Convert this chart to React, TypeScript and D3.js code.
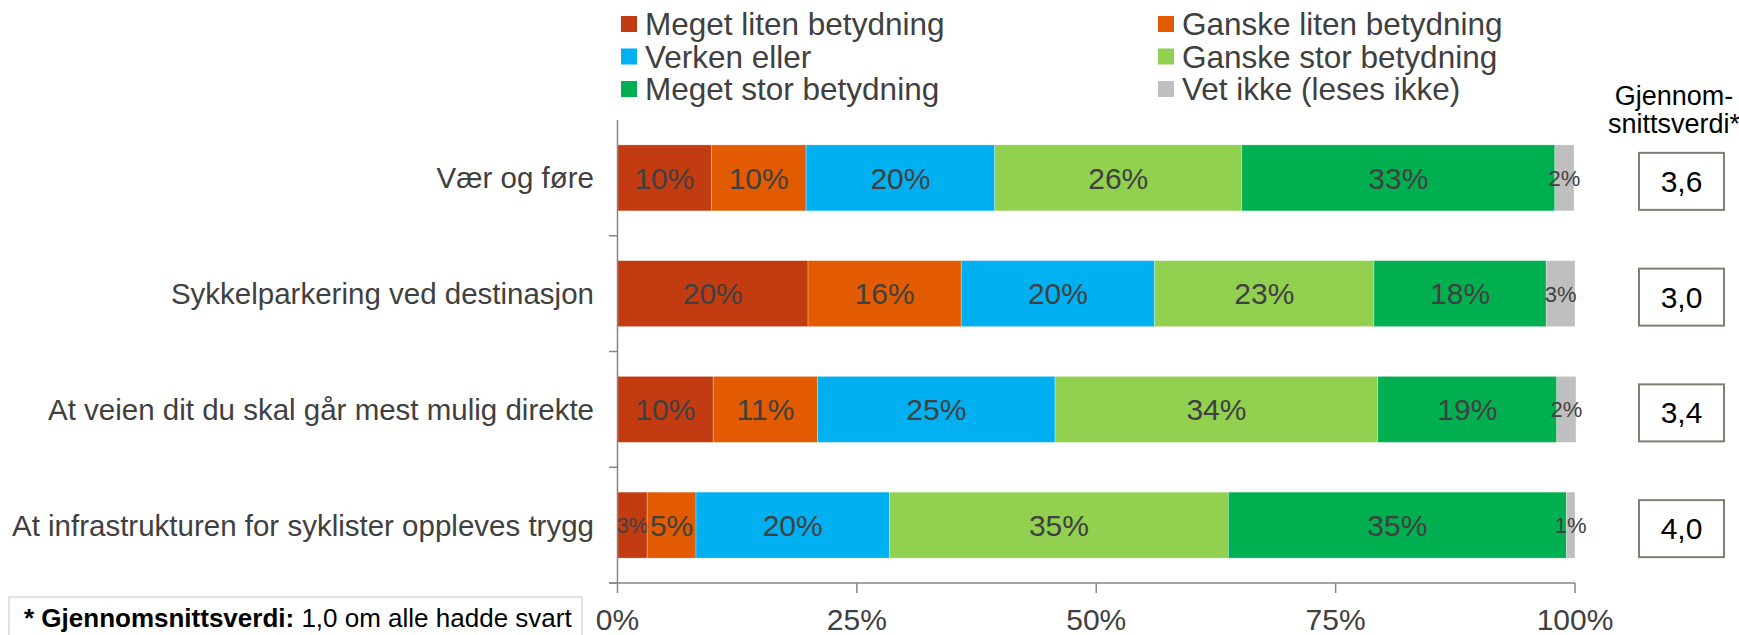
import React from "react";
import * as d3 from "d3";

const categories = [
  "Vær og føre",
  "Sykkelparkering ved destinasjon",
  "At veien dit du skal går mest mulig direkte",
  "At infrastrukturen for syklister oppleves trygg",
];
const seriesNames = [
  "Meget liten betydning",
  "Ganske liten betydning",
  "Verken eller",
  "Ganske stor betydning",
  "Meget stor betydning",
  "Vet ikke (leses ikke)",
];
const megetLiten = [9.8, 19.9, 10.0, 3.1];
const ganskeLiten = [9.9, 16.0, 10.9, 5.1];
const verkenEller = [19.7, 20.2, 24.8, 20.2];
const ganskeStor = [25.8, 22.9, 33.7, 35.4];
const megetStor = [32.7, 18.0, 18.7, 35.3];
const vetIkke = [2.0, 3.0, 2.0, 0.9];
const meanValues = [3.6, 3.0, 3.4, 4.0];
const xTicks = [0, 25, 50, 75, 100];

const colors = ["#C33B11", "#E35B00", "#00B0F0", "#92D050", "#00B050", "#BFBFBF"];
const FONT = "'Liberation Sans', Arial, Helvetica, sans-serif";
const TXT = "#404040";

export default function App() {
  const seriesValues = [megetLiten, ganskeLiten, verkenEller, ganskeStor, megetStor, vetIkke];
  const rows = categories.map((c, i) => {
    const r: any = { cat: c };
    seriesNames.forEach((s, j) => (r[s] = seriesValues[j][i]));
    return r;
  });
  const stacked = d3.stack<any>().keys(seriesNames)(rows);

  const x = d3.scaleLinear().domain([0, 100]).range([617.5, 1575]);
  const y = d3
    .scaleBand<string>()
    .domain(categories)
    .range([120, 583])
    .paddingInner(0.43)
    .paddingOuter(0.215);
  const step = y.step();
  const axisColor = "#868686";

  const legendCols = [621, 1158];
  const legendRowsY = [24, 56.5, 89];

  return (
    <svg
      width={1739}
      height={635}
      style={{ position: "absolute", left: 0, top: 0, display: "block", background: "#fff" }}
      fontFamily={FONT}
    >
      {/* legend */}
      {seriesNames.map((s, i) => {
        const cx = legendCols[i % 2];
        const cy = legendRowsY[Math.floor(i / 2)];
        return (
          <g key={s}>
            <rect x={cx} y={cy - 8} width={16} height={16} fill={colors[i]} />
            <text x={cx + 24} y={cy + 11} fontSize={31.5} fill={TXT}>
              {s}
            </text>
          </g>
        );
      })}

      {/* bars */}
      {stacked.map((layer, si) => (
        <g key={layer.key}>
          {layer.map((d, ci) => {
            const x0 = x(d[0]);
            const x1 = x(d[1]);
            const yy = y(categories[ci])!;
            const v = seriesValues[si][ci];
            const fs = v < 4 ? 22 : 30;
            return (
              <g key={ci}>
                <rect x={x0} y={yy} width={x1 - x0} height={y.bandwidth()} fill={colors[si]} stroke="#ffffff" strokeOpacity={0.35} strokeWidth={0.8} />
                <text
                  x={(x0 + x1) / 2}
                  y={yy + y.bandwidth() / 2 + fs * 0.36}
                  textAnchor="middle"
                  fontSize={fs}
                  fill={TXT}
                >
                  {Math.round(v)}%
                </text>
              </g>
            );
          })}
        </g>
      ))}

      {/* y axis */}
      <line x1={617.5} x2={617.5} y1={120} y2={583} stroke={axisColor} strokeWidth={1.5} />
      {[1, 2, 3, 4].map((i) => (
        <line key={i} x1={609} x2={617.5} y1={120 + i * step} y2={120 + i * step} stroke={axisColor} strokeWidth={1.5} />
      ))}
      {categories.map((c) => (
        <text
          key={c}
          x={594}
          y={y(c)! + y.bandwidth() / 2 + 10.5}
          textAnchor="end"
          fontSize={29.5}
          fill={TXT}
        >
          {c}
        </text>
      ))}

      {/* x axis */}
      <line x1={609} x2={1575} y1={583} y2={583} stroke={axisColor} strokeWidth={1.5} />
      {xTicks.map((t) => (
        <g key={t}>
          <line x1={x(t)} x2={x(t)} y1={583} y2={593} stroke={axisColor} strokeWidth={1.5} />
          <text x={x(t)} y={630} textAnchor="middle" fontSize={30} fill={TXT}>
            {t}%
          </text>
        </g>
      ))}

      {/* mean column */}
      <text x={1674} y={105} textAnchor="middle" fontSize={27} fill="#000">
        Gjennom-
      </text>
      <text x={1674} y={133} textAnchor="middle" fontSize={27} fill="#000">
        snittsverdi*
      </text>
      {meanValues.map((m, i) => {
        const cy = y(categories[i])! + y.bandwidth() / 2 + 3;
        return (
          <g key={i}>
            <rect x={1639} y={cy - 28} width={85} height={57} fill="#fff" stroke="#7F7F72" strokeWidth={2} />
            <text x={1681.5} y={cy + 11} textAnchor="middle" fontSize={30} fill="#000">
              {m.toFixed(1).replace(".", ",")}
            </text>
          </g>
        );
      })}

      {/* footnote */}
      <rect x={9} y={597} width={573} height={60} fill="#fff" stroke="#D9D9D9" strokeWidth={1.5} />
      <text x={24} y={627} fontSize={26} fill="#000">
        <tspan fontWeight="bold">* Gjennomsnittsverdi:</tspan>
        <tspan> 1,0 om alle hadde svart</tspan>
      </text>
    </svg>
  );
}
